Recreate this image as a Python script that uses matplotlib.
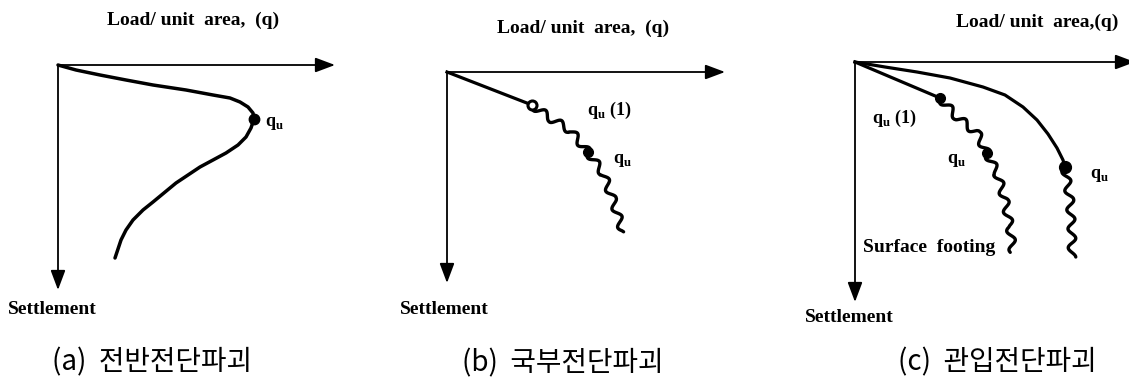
import matplotlib
matplotlib.use('Agg')
import matplotlib.pyplot as plt

plt.rcParams['mathtext.fontset'] = 'custom'
plt.rcParams['mathtext.rm'] = 'Liberation Serif'
plt.rcParams['mathtext.bf'] = 'Liberation Serif:bold'

W, H = 1129, 381

# values read off the picture, in pixels measured from each panel's origin
# (load to the right, settlement downwards)

# (a) general shear failure
a_load = [0, 18, 42, 68, 95, 128, 155, 172, 182, 190, 195, 196, 193, 188, 180,
          168, 155, 142, 118, 95, 85, 75, 68, 63, 57]
a_settle = [0, 5, 10, 15, 20, 25, 30, 33, 37, 42, 48, 54, 63, 72, 80,
            88, 95, 102, 118, 137, 145, 155, 165, 175, 193]
a_qu = (196, 54)

# (b) local shear failure
b_line_load = [0, 85]
b_line_settle = [0, 33]
b_wave1_load = [85, 103, 123, 141]
b_wave1_settle = [33, 46, 58, 80]
b_wave2_load = [141, 156, 166, 176]
b_wave2_settle = [80, 101, 128, 160]
b_qu1 = (85, 33)
b_qu = (141, 80)

# (c) punching shear failure
c_line_load = [0, 85]
c_line_settle = [0, 36]
c_wave1_load = [85, 102, 122, 132]
c_wave1_settle = [36, 55, 71, 91]
c_wave2_load = [132, 142, 150, 155, 158]
c_wave2_settle = [91, 111, 138, 165, 190]
c_curve_load = [0, 30, 62, 95, 128, 150, 168, 182, 193, 202, 208, 210]
c_curve_settle = [0, 5, 10, 16, 25, 33, 45, 58, 72, 86, 98, 105]
c_wave3_load = [210, 215, 217, 217]
c_wave3_settle = [105, 138, 171, 195]
c_qu1 = (85, 36)
c_qu = (132, 91)
c_qu2 = (210, 105)

captions = ['(a)  전반전단파괴', '(b)  국부전단파괴', '(c)  관입전단파괴']
qu = r'$\mathbf{q}_{\mathbf{u}}$'

serif = dict(family='Liberation Serif', fontweight='bold', color='black')
kor = dict(family=['Noto Sans CJK KR', 'DejaVu Sans'], color='black')


def make_panel(x0, x1, ox, oy):
    ax = fig.add_axes([x0 / W, 0, (x1 - x0) / W, 1])
    ax.set_xlim(x0 - ox, x1 - ox)
    ax.set_ylim(H - oy, -oy)
    ax.axis('off')
    return ax


def draw_axes(ax, x_tip, y_tip):
    arrow = dict(arrowstyle='-|>,head_length=0.8,head_width=0.3', lw=1.3,
                 color='black', mutation_scale=15, shrinkA=0, shrinkB=0)
    ax.annotate('', xy=(x_tip, 0), xytext=(0, 0), arrowprops=arrow,
                annotation_clip=False)
    ax.annotate('', xy=(0, y_tip), xytext=(0, 0), arrowprops=arrow,
                annotation_clip=False)


def wavy(ax, x, y):
    line, = ax.plot(x, y, color='black', lw=2.4, solid_capstyle='round')
    line.set_sketch_params(scale=3.8, length=19, randomness=1)
    return line


fig = plt.figure(figsize=(W / 100, H / 100), dpi=100)

# panel (a)
ax = make_panel(0, 376, 58, 65)
draw_axes(ax, 277, 225)
ax.plot(a_load, a_settle, color='black', lw=2.5, solid_capstyle='round')
ax.plot(*a_qu, 'o', color='black', ms=7.5)
ax.text(207, 58, qu, fontsize=13, va='center', ha='left')
ax.text(135, -45, 'Load/ unit  area,  (q)', fontsize=14, ha='center',
        va='center', **serif)
ax.text(-50, 245, 'Settlement', fontsize=14, ha='left', va='center', **serif)
ax.text(-6, 297, captions[0], fontsize=20, ha='left', va='center', **kor)

# panel (b)
ax = make_panel(376, 752, 447, 72)
draw_axes(ax, 278, 211)
ax.plot(b_line_load, b_line_settle, color='black', lw=2.3)
wavy(ax, b_wave1_load, b_wave1_settle)
wavy(ax, b_wave2_load, b_wave2_settle)
ax.plot(*b_qu1, 'o', mfc='white', mec='black', mew=2.2, ms=6.5)
ax.plot(*b_qu, 'o', color='black', ms=7)
ax.text(140, 38, qu + ' (1)', fontsize=13, va='center', ha='left', **serif)
ax.text(166, 88, qu, fontsize=13, va='center', ha='left')
ax.text(136, -44, 'Load/ unit  area,  (q)', fontsize=14, ha='center',
        va='center', **serif)
ax.text(-47, 238, 'Settlement', fontsize=14, ha='left', va='center', **serif)
ax.text(15, 291, captions[1], fontsize=20, ha='left', va='center', **kor)

# panel (c)
ax = make_panel(752, 1129, 855, 62)
draw_axes(ax, 280, 240)
ax.plot(c_line_load, c_line_settle, color='black', lw=2.3)
wavy(ax, c_wave1_load, c_wave1_settle)
wavy(ax, c_wave2_load, c_wave2_settle)
ax.plot(c_curve_load, c_curve_settle, color='black', lw=2.3)
wavy(ax, c_wave3_load, c_wave3_settle)
ax.plot(*c_qu1, 'o', color='black', ms=7)
ax.plot(*c_qu, 'o', color='black', ms=7)
ax.plot(*c_qu2, 'o', color='black', ms=8.5)
ax.text(17, 56, qu + ' (1)', fontsize=13, va='center', ha='left', **serif)
ax.text(92, 98, qu, fontsize=13, va='center', ha='left')
ax.text(235, 113, qu, fontsize=13, va='center', ha='left')
ax.text(8, 186, 'Surface  footing', fontsize=14, ha='left', va='center',
        **serif)
ax.text(182, -40, 'Load/ unit  area,(q)', fontsize=14, ha='center',
        va='center', **serif)
ax.text(-50, 256, 'Settlement', fontsize=14, ha='left', va='center', **serif)
ax.text(43, 300, captions[2], fontsize=20, ha='left', va='center', **kor)

fig.savefig('out.png', dpi=100)
